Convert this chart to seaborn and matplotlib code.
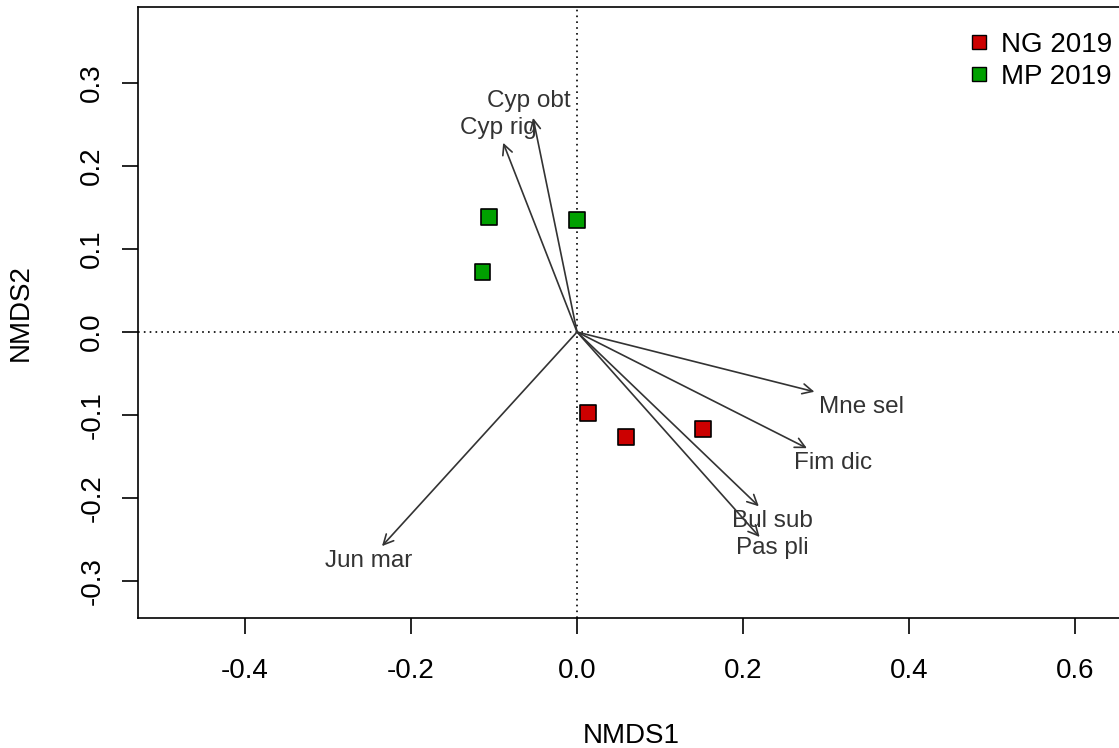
import matplotlib
matplotlib.use('Agg')
import matplotlib.pyplot as plt
import pandas as pd
import seaborn as sns

sns.set_style('white')
plt.rcParams['font.family'] = ['Liberation Sans', 'DejaVu Sans']

# site scores
site_x = [0.013, 0.059, 0.152, -0.106, 0.000, -0.114]
site_y = [-0.098, -0.127, -0.117, 0.139, 0.135, 0.072]
site_group = ['NG 2019', 'NG 2019', 'NG 2019', 'MP 2019', 'MP 2019', 'MP 2019']
group_colors = {'NG 2019': '#CC0000', 'MP 2019': '#00A000'}

# species vectors (envfit arrows) and label positions
species = ['Cyp obt', 'Cyp rig', 'Mne sel', 'Fim dic', 'Bul sub', 'Pas pli', 'Jun mar']
arrow_x = [-0.053, -0.089, 0.286, 0.277, 0.219, 0.220, -0.235]
arrow_y = [0.258, 0.228, -0.072, -0.140, -0.210, -0.247, -0.258]
label_x = [-0.058, -0.095, 0.343, 0.308, 0.236, 0.235, -0.251]
label_y = [0.278, 0.246, -0.090, -0.158, -0.228, -0.260, -0.276]

x_ticks = [-0.4, -0.2, 0.0, 0.2, 0.4, 0.6]
y_ticks = [-0.3, -0.2, -0.1, 0.0, 0.1, 0.2, 0.3]

df = pd.DataFrame({'NMDS1': site_x, 'NMDS2': site_y, 'group': site_group})

fig = plt.figure(figsize=(11.19, 7.48), dpi=100)
ax = fig.add_axes([138 / 1119, 1 - 618 / 748, (1125 - 138) / 1119, (618 - 7) / 748])

ax.axhline(0, color='black', linestyle=(0, (1, 2.5)), linewidth=1.2, zorder=1)
ax.axvline(0, color='black', linestyle=(0, (1, 2.5)), linewidth=1.2, zorder=1)

for sp, ax_, ay_, lx, ly in zip(species, arrow_x, arrow_y, label_x, label_y):
    ax.annotate('', xy=(ax_, ay_), xytext=(0, 0),
                arrowprops=dict(arrowstyle='->', color='#333333', lw=1.2,
                                shrinkA=0, shrinkB=0, mutation_scale=18))
    ax.text(lx, ly, sp, ha='center', va='center', fontsize=17.5, color='#333333')

sns.scatterplot(data=df, x='NMDS1', y='NMDS2', hue='group', palette=group_colors,
                marker='s', s=130, edgecolor='black', linewidth=1.2, ax=ax,
                legend=False, zorder=3)

ax.set_xlim(-0.529, (1125 - 577) / 830)
ax.set_ylim(-0.3446, 0.3916)
ax.set_xticks(x_ticks)
ax.set_xticklabels([f'{v:.1f}' for v in x_ticks])
ax.set_yticks(y_ticks)
ax.set_yticklabels([f'{v:.1f}' for v in y_ticks], rotation=90, va='center')
ax.tick_params(axis='both', direction='out', length=11.5, width=1.2,
               labelsize=20, color='black', labelcolor='black',
               bottom=True, left=True)
ax.tick_params(axis='x', pad=17)
ax.tick_params(axis='y', pad=12)
for spine in ax.spines.values():
    spine.set_color('black')
    spine.set_linewidth(1.2)

ax.set_xlabel('NMDS1', fontsize=20, color='black')
ax.set_ylabel('NMDS2', fontsize=20, color='black')
ax.xaxis.set_label_coords(0.5, -(723 - 618) / 611)
ax.yaxis.set_label_coords(-(138 - 34) / 987, 0.5)

handles = [plt.Line2D([], [], marker='s', linestyle='', markersize=9.5,
                      markerfacecolor=group_colors[g], markeredgecolor='black',
                      markeredgewidth=1.0, label=g)
           for g in ['NG 2019', 'MP 2019']]
leg = fig.legend(handles=handles, loc='upper left', bbox_to_anchor=(962 / 1119, 1 - 32 / 748),
                 frameon=False, fontsize=20, handletextpad=0.2, labelspacing=0.22,
                 handlelength=1.2, borderaxespad=0, borderpad=0)
for t in leg.get_texts():
    t.set_color('black')

fig.savefig('out.png', dpi=100)
